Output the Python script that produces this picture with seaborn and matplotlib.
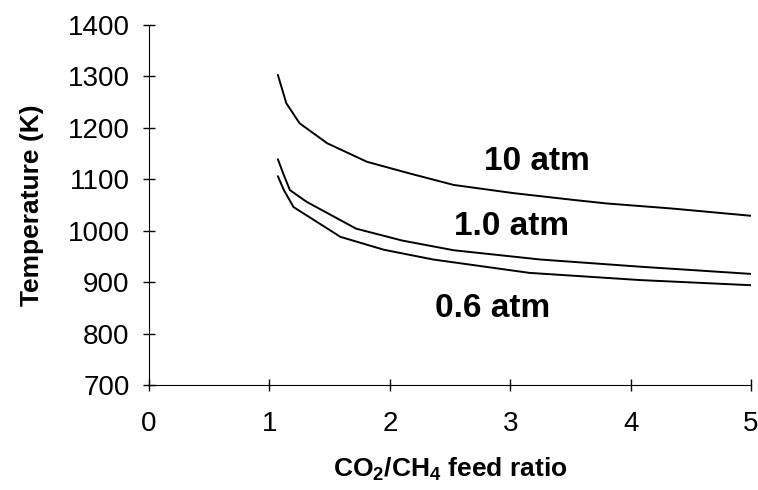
import numpy as np
import pandas as pd
import matplotlib
matplotlib.use("Agg")
import matplotlib.pyplot as plt
import seaborn as sns

# values
ratio_10 = [1.07, 1.14, 1.25, 1.48, 1.81, 2.17, 2.53, 3.03, 3.52, 3.80, 4.35, 5.00]
temp_10 = [1303, 1248, 1209, 1170, 1134, 1111, 1089, 1073, 1060, 1053, 1043, 1029]

ratio_1 = [1.07, 1.12, 1.17, 1.31, 1.72, 2.10, 2.53, 3.25, 4.08, 5.00]
temp_1 = [1139, 1108, 1079, 1056, 1004, 981, 962, 944, 930, 916]

ratio_06 = [1.07, 1.12, 1.20, 1.59, 1.95, 2.36, 3.16, 4.08, 5.00]
temp_06 = [1106, 1079, 1046, 988, 963, 944, 918, 904, 894]

labels = ["10 atm", "1.0 atm", "0.6 atm"]
label_pos = [(3.22, 1134), (3.01, 1008), (2.85, 849)]

x_ticks = [0, 1, 2, 3, 4, 5]
y_ticks = [700, 800, 900, 1000, 1100, 1200, 1300, 1400]

df = pd.concat(
    [
        pd.DataFrame({"ratio": ratio_10, "temp": temp_10, "p": "10 atm"}),
        pd.DataFrame({"ratio": ratio_1, "temp": temp_1, "p": "1.0 atm"}),
        pd.DataFrame({"ratio": ratio_06, "temp": temp_06, "p": "0.6 atm"}),
    ],
    ignore_index=True,
)

sns.set_style("white")
plt.rcParams["font.family"] = ["Liberation Sans", "DejaVu Sans"]
plt.rcParams["mathtext.fontset"] = "custom"
plt.rcParams["mathtext.rm"] = "Liberation Sans"
plt.rcParams["mathtext.bf"] = "Liberation Sans:bold"
plt.rcParams["text.color"] = "black"
plt.rcParams["axes.labelcolor"] = "black"

fig = plt.figure(figsize=(7.58, 4.90), dpi=100)
ax = fig.add_axes([0.1966, 0.2143, 0.7942, 0.7347])

sns.lineplot(
    data=df, x="ratio", y="temp", hue="p", units="p", estimator=None,
    palette=["black"] * 3, linewidth=1.4, legend=False, sort=False, ax=ax,
)

for lab, (lx, ly) in zip(labels, label_pos):
    ax.text(lx, ly, lab, fontsize=24, fontweight="bold", ha="center", va="center",
            color="black")

ax.set_xlim(0, 5)
ax.set_ylim(700, 1400)
ax.set_xticks(x_ticks)
ax.set_yticks(y_ticks)
ax.tick_params(axis="both", direction="inout", length=8, width=1, color="black",
               labelsize=20, labelcolor="black", bottom=True, left=True)
ax.tick_params(axis="x", pad=15)
ax.tick_params(axis="y", pad=10)

ax.set_xlabel(r"CO$_{\mathbf{2}}$/CH$_{\mathbf{4}}$ feed ratio", fontsize=19,
              fontweight="bold", labelpad=13)
ax.set_ylabel("Temperature (K)", fontsize=19, fontweight="bold", labelpad=17)

ax.spines["top"].set_visible(False)
ax.spines["right"].set_visible(False)
ax.spines["left"].set_color("black")
ax.spines["bottom"].set_color("black")
ax.grid(False)

fig.savefig("out.png", dpi=100)
